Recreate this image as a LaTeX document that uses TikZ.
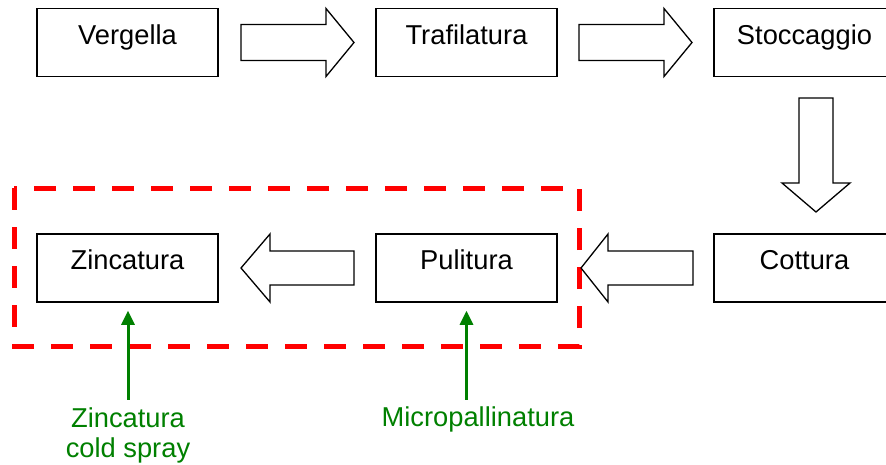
\documentclass[tikz,border=0pt]{standalone}
\usepackage{fontspec}
\setmainfont{Liberation Sans}
\usetikzlibrary{arrows.meta,calc}
\definecolor{feedgreen}{RGB}{0,128,0}
\begin{document}
\begin{tikzpicture}[x=1pt,y=-1pt,
  procbox/.style={draw=black,line width=1.5pt,fill=white,minimum width=181pt,minimum height=68pt,
    inner sep=0pt,text height=19pt,text depth=16pt,font=\fontsize{27.3}{30}\selectfont},
  blockarrow/.style={draw=black,line width=1.3pt,fill=white,line join=miter},
  groupframe/.style={draw=red,line width=5pt,dash pattern=on 22pt off 17pt},
  feedarrow/.style={draw=feedgreen,line width=3pt,-{Triangle[width=13pt,length=14pt]}},
  feedlabel/.style={text=feedgreen,font=\fontsize{27.3}{30}\selectfont,align=center,inner sep=0pt}]
\useasboundingbox (0,0) rectangle (886,464);

% group frame
\draw[groupframe] (14,188) rectangle (579,346);

% process boxes
\node[procbox] (verg) at (127.5,42.5) {Vergella};
\node[procbox] (traf) at (466.5,42.5) {Trafilatura};
\node[procbox] (stoc) at (804.5,42.5) {Stoccaggio};
\node[procbox] (zinc) at (127.5,268) {Zincatura};
\node[procbox] (puli) at (466.5,268) {Pulitura};
\node[procbox] (cott) at (804.5,268) {Cottura};

% block arrows
\draw[blockarrow] (241,24.5) -- (326,24.5) -- (326,8.5) -- (354,42.5) -- (326,76.5) -- (326,60.5) -- (241,60.5) -- cycle;
\draw[blockarrow] (579,24.5) -- (664,24.5) -- (664,8.5) -- (692,42.5) -- (664,76.5) -- (664,60.5) -- (579,60.5) -- cycle;
\draw[blockarrow] (799,98) -- (799,183) -- (782,183) -- (816,212) -- (850,183) -- (833,183) -- (833,98) -- cycle;
\draw[blockarrow] (693,251) -- (608,251) -- (608,234) -- (581,268) -- (608,302) -- (608,285) -- (693,285) -- cycle;
\draw[blockarrow] (354,251) -- (270,251) -- (270,234) -- (241,268) -- (270,302) -- (270,285) -- (354,285) -- cycle;

% feed labels and arrows
\node[feedlabel,anchor=base] (zlab) at (128,457) {Zincatura\\cold spray};
\node[feedlabel,anchor=base] (mlab) at (478,426) {Micropallinatura};
\draw[feedarrow] ($(zinc.south)+(0.5,97)$) -- ($(zinc.south)+(0.5,8)$);
\draw[feedarrow] ($(puli.south)+(0,97)$) -- ($(puli.south)+(0,8)$);
\end{tikzpicture}
\end{document}
